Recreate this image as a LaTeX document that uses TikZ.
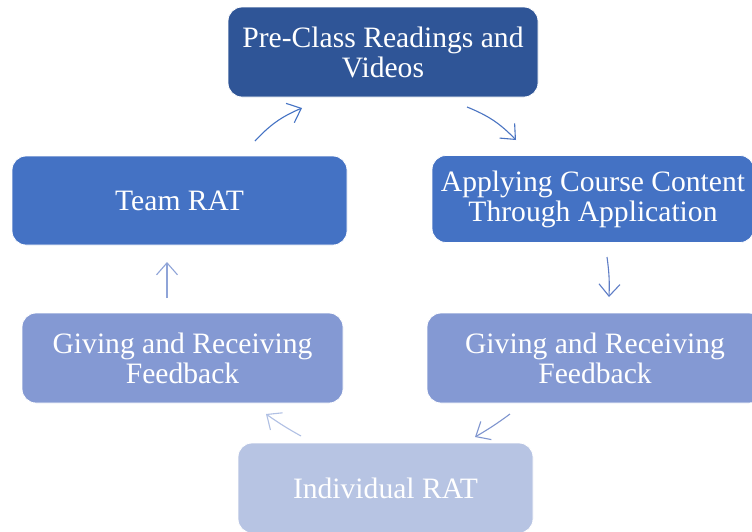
\documentclass[tikz,border=0pt]{standalone}
\usepackage{fontspec}
\setmainfont{Liberation Serif}
\usetikzlibrary{arrows.meta}

\definecolor{stageA}{HTML}{2F5597}
\definecolor{stageB}{HTML}{4472C4}
\definecolor{stageC}{HTML}{8499D3}
\definecolor{stageD}{HTML}{B7C4E3}
\definecolor{arrA}{HTML}{4472C4}
\definecolor{arrB}{HTML}{4A74C2}
\definecolor{arrC}{HTML}{5E7DC6}
\definecolor{arrD}{HTML}{7F95CF}
\definecolor{arrE}{HTML}{B0C0E4}
\definecolor{arrF}{HTML}{8FA4D8}

\tikzset{
  stagebox/.style={rectangle, rounded corners=14pt, draw=white, line width=0.8pt,
    text=white, align=center, inner sep=0pt,
    font=\fontsize{29.6}{30}\selectfont},
  cyclearrow/.style={line width=1.1pt,
    -{Straight Barb[length=12pt,width=21pt,line width=1.1pt]}}
}

\begin{document}
\begin{tikzpicture}[x=1pt,y=-1pt]
  \useasboundingbox (0,0) rectangle (752,531);
  \fill[white] (0,0) rectangle (752,531);

  % stages of the cycle
  \node[stagebox, fill=stageA, minimum width=310pt, minimum height=90pt] (pre) at (383,52)
    {Pre-Class Readings and\\Videos};
  \node[stagebox, fill=stageB, minimum width=322pt, minimum height=87pt] (apply) at (593,199)
    {Applying Course Content\\Through Application};
  \node[stagebox, fill=stageC, minimum width=336pt, minimum height=90pt] (fbR) at (595,358)
    {Giving and Receiving\\Feedback};
  \node[stagebox, fill=stageD, minimum width=295pt, minimum height=90pt] (ind) at (385.5,488)
    {Individual RAT};
  \node[stagebox, fill=stageC, minimum width=321pt, minimum height=90pt] (fbL) at (182.5,358)
    {Giving and Receiving\\Feedback};
  \node[stagebox, fill=stageB, minimum width=335pt, minimum height=89pt] (team) at (179.5,200.5)
    {Team RAT};

  % arrow end points between the stages
  \coordinate (a1s) at (255,141);  \coordinate (a1e) at (302,108);
  \coordinate (a2s) at (467,107);  \coordinate (a2e) at (516,140);
  \coordinate (a3s) at (607,257);  \coordinate (a3e) at (609,297);
  \coordinate (a4s) at (510,414);  \coordinate (a4e) at (475,437);
  \coordinate (a5s) at (301,436);  \coordinate (a5e) at (266,414);
  \coordinate (a6s) at (167,298);  \coordinate (a6e) at (167,262);

  % clockwise arrows
  \draw[cyclearrow, draw=arrA] (a1s) to[bend left=12] (a1e);
  \draw[cyclearrow, draw=arrB] (a2s) to[bend left=12] (a2e);
  \draw[cyclearrow, draw=arrC] (a3s) to[bend left=5] (a3e);
  \draw[cyclearrow, draw=arrD] (a4s) to[bend left=3] (a4e);
  \draw[cyclearrow, draw=arrE] (a5s) to[bend left=3] (a5e);
  \draw[cyclearrow, draw=arrF] (a6s) -- (a6e);
\end{tikzpicture}
\end{document}
